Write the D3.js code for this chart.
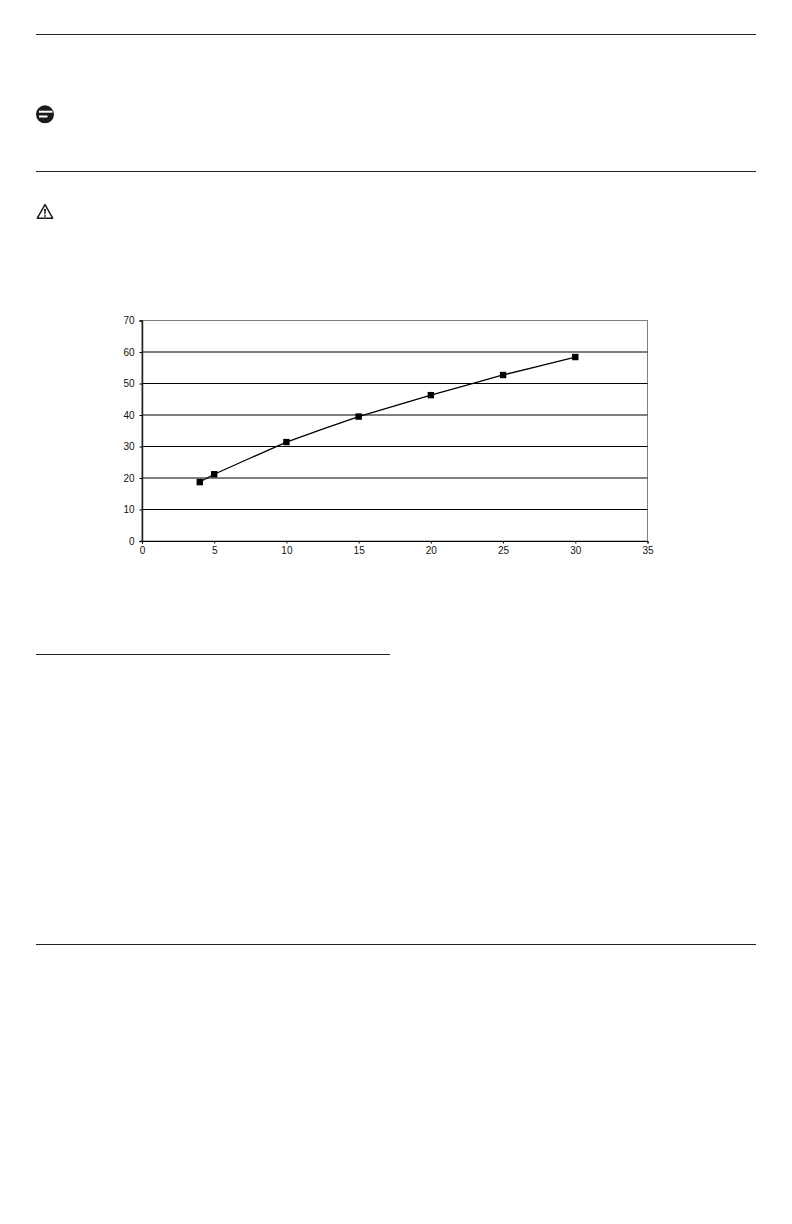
<!DOCTYPE html>
<html>
<head>
<meta charset="utf-8">
<style>
  html, body { margin: 0; padding: 0; background: #fff; }
  svg { display: block; }
</style>
<script src="https://cdn.jsdelivr.net/npm/d3@7"></script>
</head>
<body>
<div id="chart"></div>
<script>
var xValues = [4, 5, 10, 15, 20, 25, 30]
var yValues = [18.7, 21.2, 31.4, 39.5, 46.3, 52.7, 58.4]
var xTicks = [0, 5, 10, 15, 20, 25, 30, 35]
var yTicks = [0, 10, 20, 30, 40, 50, 60, 70]

var w = 792, h = 1224
var left = 142, right = 647.5, top_ = 320.5, bottom = 541

var svg = d3.select("#chart").append("svg")
  .attr("width", w)
  .attr("height", h)

// page rules
var rules = [
  {x1: 36, x2: 756, y: 34.5},
  {x1: 36, x2: 756, y: 171.5},
  {x1: 36, x2: 390, y: 654.5},
  {x1: 36, x2: 756, y: 944.5}
]
svg.selectAll("line.rule")
  .data(rules).enter()
  .append("line")
  .attr("class", "rule")
  .attr("x1", function(d){ return d.x1 })
  .attr("x2", function(d){ return d.x2 })
  .attr("y1", function(d){ return d.y })
  .attr("y2", function(d){ return d.y })
  .style("stroke", "#222")
  .style("stroke-width", 1)

// note icon
var note = svg.append("g").attr("transform", "translate(45,114.3)")
note.append("circle").attr("r", 9).style("fill", "#1a1a1a")
note.append("rect").attr("x", -6).attr("y", -3.6).attr("width", 13.5).attr("height", 2).style("fill", "#fff")
note.append("rect").attr("x", -6).attr("y", 1.2).attr("width", 8.5).attr("height", 2).style("fill", "#fff")

// warning icon
var warn = svg.append("g").attr("transform", "translate(45,212)")
warn.append("path")
  .attr("d", "M0,-7.4 L7.7,6.2 L-7.7,6.2 Z")
  .style("fill", "#fff")
  .style("stroke", "#1a1a1a")
  .style("stroke-width", 1.5)
  .style("stroke-linejoin", "round")
warn.append("path").attr("d", "M-1,-3 L1,-3 L0.5,2.4 L-0.5,2.4 Z").style("fill", "#1a1a1a")
warn.append("rect").attr("x", -0.8).attr("y", 3.2).attr("width", 1.6).attr("height", 1.6).style("fill", "#1a1a1a")

var x = d3.scaleLinear().domain([0, 35]).range([left, right])
var y = d3.scaleLinear().domain([0, 70]).range([bottom, top_])

// plot frame
svg.append("rect")
  .attr("x", left)
  .attr("y", top_)
  .attr("width", right - left)
  .attr("height", bottom - top_)
  .style("fill", "none")
  .style("stroke", "#808080")
  .style("stroke-width", 1)

// gridlines
svg.selectAll("line.grid")
  .data(yTicks.slice(1, -1)).enter()
  .append("line")
  .attr("class", "grid")
  .attr("x1", left)
  .attr("x2", right)
  .attr("y1", function(d){ return y(d) })
  .attr("y2", function(d){ return y(d) })
  .style("stroke", "#000")
  .style("stroke-width", 1)

// axes
var xAxis = svg.append("g")
  .attr("transform", "translate(0," + bottom + ")")
  .call(d3.axisBottom(x).tickValues(xTicks).tickSize(2.5).tickPadding(3.5))
var yAxis = svg.append("g")
  .attr("transform", "translate(" + left + ",0)")
  .call(d3.axisLeft(y).tickValues(yTicks).tickSize(2.5).tickPadding(5))
xAxis.selectAll("path, line").style("stroke", "#000").style("stroke-width", 1)
yAxis.selectAll("path, line").style("stroke", "#000").style("stroke-width", 1)
yAxis.select("path").style("stroke", "#222").style("stroke-width", 1.5)
svg.selectAll("g text")
  .style("font-size", "10px")
  .style("font-family", '"Liberation Sans", Arial, sans-serif')
  .style("fill", "#111")

// series
var points = xValues.map(function(d, i){ return {x: d, y: yValues[i]} })
var line = d3.line()
  .x(function(d){ return x(d.x) })
  .y(function(d){ return y(d.y) })
  .curve(d3.curveCardinal.tension(0.8))

svg.append("path")
  .datum(points)
  .attr("d", line)
  .style("fill", "none")
  .style("stroke", "#000")
  .style("stroke-width", 1.3)

svg.selectAll("rect.marker")
  .data(points).enter()
  .append("rect")
  .attr("class", "marker")
  .attr("x", function(d){ return x(d.x) - 3.2 })
  .attr("y", function(d){ return y(d.y) - 3.2 })
  .attr("width", 6.4)
  .attr("height", 6.4)
  .style("fill", "#000")
</script>
</body>
</html>
